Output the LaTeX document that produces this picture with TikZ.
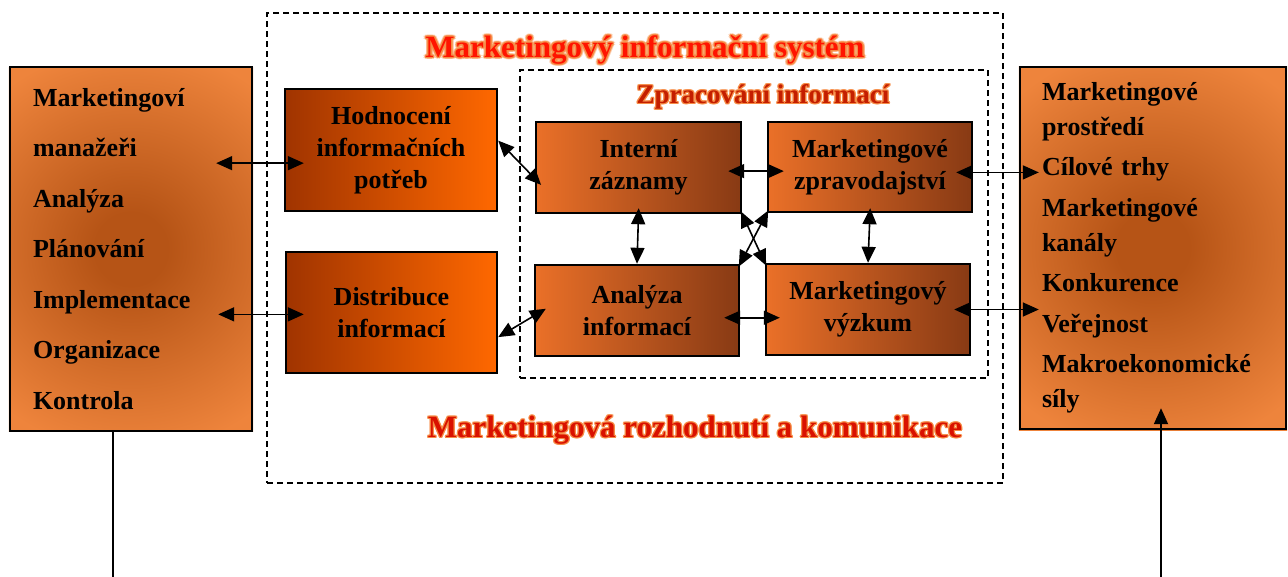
\documentclass[tikz,border=0pt]{standalone}
\usepackage{fontspec}
\setmainfont{Liberation Serif}
\usetikzlibrary{arrows.meta,backgrounds}

\definecolor{hodL}{RGB}{160,52,0}
\definecolor{hodR}{RGB}{255,104,0}
\definecolor{procL}{RGB}{234,112,40}
\definecolor{procR}{RGB}{136,58,20}
\definecolor{sideC}{RGB}{182,84,22}
\definecolor{sideM}{RGB}{238,132,60}
\definecolor{sideO}{RGB}{243,180,140}
\definecolor{glowOr}{RGB}{246,140,70}
\definecolor{headRed}{RGB}{255,20,0}
\definecolor{subRed}{RGB}{196,30,0}
\pgfdeclareradialshading{sideglow}{\pgfpoint{0bp}{0bp}}{color(0bp)=(sideC);color(5bp)=(sideC);color(28bp)=(sideM);color(38bp)=(sideM);color(64bp)=(sideO)}

\begin{document}
\begin{tikzpicture}[x=1pt,y=1pt,yscale=-1,
    box/.style={draw=black,line width=2.4pt,font=\bfseries\fontsize{26}{32}\selectfont,align=center,inner sep=0pt},
    needbox/.style={box,left color=hodL,right color=hodR,minimum width=212pt,minimum height=122pt},
    procbox/.style={box,left color=procL,right color=procR,minimum width=205pt,minimum height=91pt},
    sidebox/.style={draw=black,line width=2.4pt,align=left,inner ysep=0pt},
    frame/.style={draw=black,line width=1.8pt,dash pattern=on 6pt off 4pt,inner sep=0pt},
    link/.style={line width=1.6pt,{Triangle[length=16pt,width=14pt]}-{Triangle[length=16pt,width=14pt]}},
    feed/.style={line width=1.8pt,-{Triangle[length=16pt,width=14pt]}},
    headfont/.style={font=\bfseries\fontsize{31}{36}\selectfont},
    subfont/.style={font=\bfseries\fontsize{27}{32}\selectfont}]
    \useasboundingbox (0,0) rectangle (1288,576);

    % Frames
    \node[frame,minimum width=736pt,minimum height=470pt] (mis-frame) at (635,248) {};
    \node[frame,minimum width=468pt,minimum height=308pt] (proc-frame) at (754,224) {};

    % Title Nodes: orange halo copies under the red text
    \foreach \a in {0,45,...,315}{
        \node[headfont,text=glowOr,opacity=0.4,shift={(\a+22:2.6pt)}] (mis-o\a) at (645,50) {Marketingový informační systém};
        \node[headfont,text=glowOr,shift={(\a:1.3pt)}] (mis-i\a) at (645,50) {Marketingový informační systém};
        \node[subfont,text=glowOr,shift={(\a:1.3pt)}] (proc-o\a) at (763,97) {Zpracování informací};
        \node[headfont,text=glowOr,shift={(\a:1.3pt)}] (rozh-o\a) at (695,430) {Marketingová rozhodnutí a komunikace};
    }
    \node[headfont,text=headRed] (mis) at (645,50) {Marketingový informační systém};
    \node[subfont,text=subRed] (proc) at (763,97) {Zpracování informací};
    \node[headfont,text=headRed!85!black] (rozh) at (695,430) {Marketingová rozhodnutí a komunikace};

    % Side Nodes
    \node[sidebox,text width=196pt,inner xsep=23pt,minimum height=364pt,font=\bfseries\fontsize{26}{50.5}\selectfont] (mgr) at (131,249)
        {Marketingoví\\manažeři\\Analýza\\Plánování\\Implementace\\Organizace\\Kontrola};
    \node[sidebox,text width=222pt,inner xsep=22pt,minimum height=362pt,font=\bfseries\fontsize{26}{35}\selectfont] (env) at (1153,248)
        {Marketingové\\prostředí\\[5.5pt]Cílové trhy\\[5.5pt]Marketingové\\kanály\\[5.5pt]Konkurence\\[5.5pt]Veřejnost\\[5.5pt]Makroekonomické\\síly};
    % radial glow behind the side nodes
    \begin{scope}[on background layer]
        \foreach \n in {mgr,env}{
            \begin{scope}
                \clip (\n.south west) rectangle (\n.north east);
                \shade[shading=sideglow] ([shift={(-182,-182)}]\n.center) rectangle ([shift={(182,182)}]\n.center);
            \end{scope}
        }
    \end{scope}

    % Box Nodes
    \node[needbox] (hod) at (391,150) {Hodnocení\\informačních\\potřeb};
    \node[needbox,minimum width=211pt,minimum height=121pt] (dist) at (391.5,312.5) {Distribuce\\informací};
    \node[procbox] (int) at (638.5,167.5) {Interní\\záznamy};
    \node[procbox,minimum width=204pt,minimum height=90pt] (zprav) at (870,167) {Marketingové\\zpravodajství};
    \node[procbox,minimum width=204pt] (ana) at (637,310.5) {Analýza\\informací};
    \node[procbox,minimum width=204pt] (vyz) at (868,309.5) {Marketingový\\výzkum};

    % Connection
    \draw[link,shorten <=-37pt,shorten >=-20pt] (mgr.east |- hod.187) -- (hod.187);
    \draw[link,shorten <=-35pt,shorten >=-19pt] (mgr.east |- dist.181) -- (dist.181);
    \draw[link,shorten >=-9pt] (hod.5) -- (int.186);
    \draw[link,shorten >=-14pt] (dist.347) -- (ana.183);
    \draw[link,shorten <=-14pt,shorten >=-17pt] (int.358) -- (int.358 -| zprav.west);
    \draw[link,shorten <=-6pt] (int.south) -- (ana.north);
    \draw[link,shorten <=-5pt] (zprav.south) -- (vyz.north);
    \draw[link,shorten <=-16pt,shorten >=-15pt] (ana.356) -- (ana.356 -| vyz.west);
    \draw[link,shorten <=-3pt,shorten >=-3pt] (int.south east) -- (vyz.north west);
    \draw[link,shorten <=-3pt,shorten >=-3pt] (zprav.south west) -- (ana.north east);
    \draw[link,shorten <=-17pt,shorten >=-20pt] (zprav.357) -- (zprav.357 -| env.west);
    \draw[link,shorten <=-17pt,shorten >=-20pt] (vyz.east) -- (vyz.east -| env.west);

    % Outside lines
    \coordinate (mgr-out) at (113,578);
    \coordinate (env-in) at (1161,578);
    \draw[line width=1.8pt] (mgr.south -| mgr-out) -- (mgr-out);
    \draw[feed,shorten >=-22pt] (env-in) -- (env-in |- env.south);
\end{tikzpicture}
\end{document}
